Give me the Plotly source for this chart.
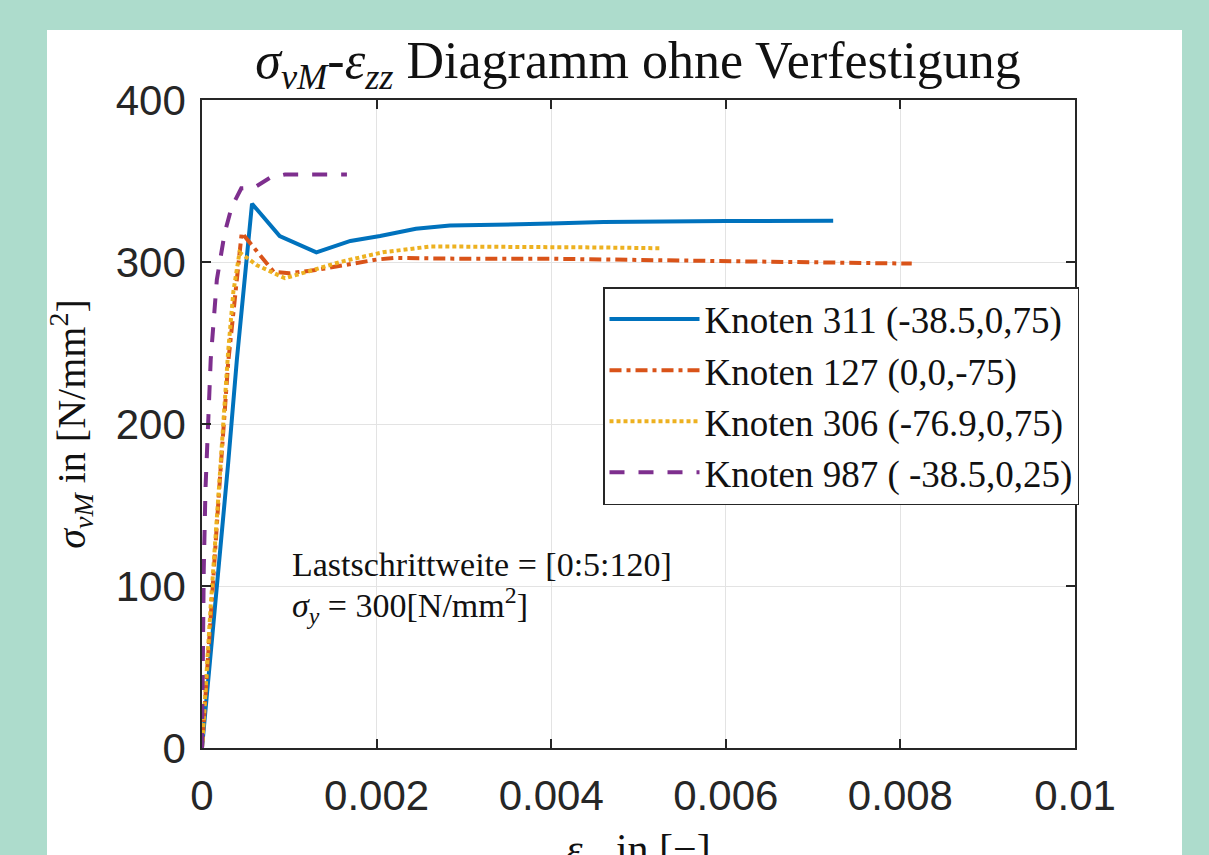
import plotly.graph_objects as go

# ---- data ----
eps_311 = [0, 0.0001, 0.0002, 0.0003, 0.0004, 0.000573, 0.00089, 0.00131, 0.0017, 0.00204,
           0.00245, 0.00284, 0.004, 0.0046, 0.006, 0.00723]
sig_311 = [0, 58, 117, 176, 240, 336, 316, 306, 313, 316, 320.5, 322.5, 323.7, 324.7, 325.3, 325.5]

eps_127 = [0, 0.0001, 0.0002, 0.0003, 0.00038, 0.000455, 0.00082, 0.001, 0.0013, 0.0016,
           0.002, 0.0022, 0.003, 0.004, 0.0046, 0.005, 0.006, 0.007, 0.00813]
sig_127 = [0, 85, 162, 238, 282, 318, 294, 293, 295, 298, 301.5, 302.5, 302, 302, 301.5,
           301, 300.5, 299.5, 299]

eps_306 = [0, 0.0001, 0.0002, 0.0003, 0.00036, 0.00043, 0.00063, 0.00095, 0.00127, 0.00158,
           0.00207, 0.00261, 0.003, 0.004, 0.0045, 0.00525]
sig_306 = [0, 88, 165, 245, 282, 306, 298, 290, 295, 300, 306, 309.5, 309.5, 309.5, 309, 308.5]

eps_987 = [0, 0.00001, 0.00002, 0.00004, 0.00007, 0.0001, 0.00017, 0.00026, 0.00034, 0.00045,
           0.0006, 0.00078, 0.00095, 0.0012, 0.00166]
sig_987 = [0, 60, 110, 160, 205, 240, 289, 318, 334, 345.5, 346, 352, 354, 354, 354]

names = ["Knoten 311 (-38.5,0,75)", "Knoten 127 (0,0,-75)",
         "Knoten 306 (-76.9,0,75)", "Knoten 987 ( -38.5,0,25)"]
colors = ["#0072BD", "#D95319", "#EDB120", "#7E2F8E"]
dashes = ["solid", "12px,5px,4px,5px", "4px,3px", "15px,14px"]

x_ticks = [0, 0.002, 0.004, 0.006, 0.008, 0.01]
x_ticktext = ["0", "0.002", "0.004", "0.006", "0.008", "0.01"]
y_ticks = [0, 100, 200, 300, 400]

SERIF = "Liberation Serif, DejaVu Serif, serif"
SANS = "Liberation Sans, Arial, sans-serif"

fig = go.Figure()
for xs, ys, nm, c, d in zip([eps_311, eps_127, eps_306, eps_987],
                            [sig_311, sig_127, sig_306, sig_987],
                            names, colors, dashes):
    fig.add_trace(go.Scatter(x=xs, y=ys, mode="lines", name=nm,
                             line=dict(color=c, width=4, dash=d)))

# white panel behind the axes
fig.add_shape(type="rect", xref="paper", yref="paper",
              x0=(47 - 202) / 873, x1=(1182 - 202) / 873,
              y0=(748 - 900) / 648, y1=(748 - 30) / 648,
              fillcolor="white", line=dict(width=0), layer="below")

fig.add_annotation(x=0.00101, y=113, xref="x", yref="y", xanchor="left",
                   text="Lastschrittweite = [0:5:120]", showarrow=False,
                   font=dict(family=SERIF, size=34, color="#111111"))
fig.add_annotation(x=0.00101, y=88, xref="x", yref="y", xanchor="left",
                   text="<i>σ<sub>y</sub></i> = 300[N/mm<sup>2</sup>]", showarrow=False,
                   font=dict(family=SERIF, size=34, color="#111111"))

# x-axis title (partly cut off by the page bottom, as in the reference)
fig.add_annotation(x=0.5, y=(748 - 824) / 648, xref="paper", yref="paper",
                   xanchor="center", yanchor="top", showarrow=False,
                   text="<i>ε<sub>zz</sub></i> in [−]",
                   font=dict(family=SERIF, size=42, color="#111111"))

axis_common = dict(showline=True, linecolor="#262626", linewidth=1.5, mirror="ticks",
                   ticks="inside", ticklen=9, tickwidth=1.5, tickcolor="#262626",
                   showgrid=True, gridcolor="#e3e3e3", gridwidth=1, zeroline=False,
                   automargin=False,
                   tickfont=dict(family=SANS, size=42, color="#262626"))

fig.update_layout(
    width=1209, height=855,
    margin=dict(l=202, r=134, t=100, b=107),
    paper_bgcolor="#addccc", plot_bgcolor="white",
    title=dict(text="<i>σ<sub>vM</sub></i>-<i>ε<sub>zz</sub></i> Diagramm ohne Verfestigung",
               x=638 / 1209, xanchor="center", y=1 - 60 / 855, yanchor="middle",
               font=dict(family=SERIF, size=52, color="#111111")),
    xaxis=dict(range=[0, 0.01], tickvals=x_ticks, ticktext=x_ticktext,
               ticklabelstandoff=10, **axis_common),
    yaxis=dict(range=[0, 400], tickvals=y_ticks, ticklabelstandoff=6,
               title=dict(text="<i>σ<sub>vM</sub></i> in [N/mm<sup>2</sup>]", standoff=18,
                          font=dict(family=SERIF, size=40, color="#111111")),
               **axis_common),
    legend=dict(x=(603 - 202) / 873, y=(748 - 287) / 648, xanchor="left", yanchor="top",
                bgcolor="white", bordercolor="#262626", borderwidth=1.5,
                font=dict(family=SERIF, size=37, color="#111111"),
                tracegroupgap=0, itemwidth=90),
    showlegend=True,
)

fig.write_html("out.html")
